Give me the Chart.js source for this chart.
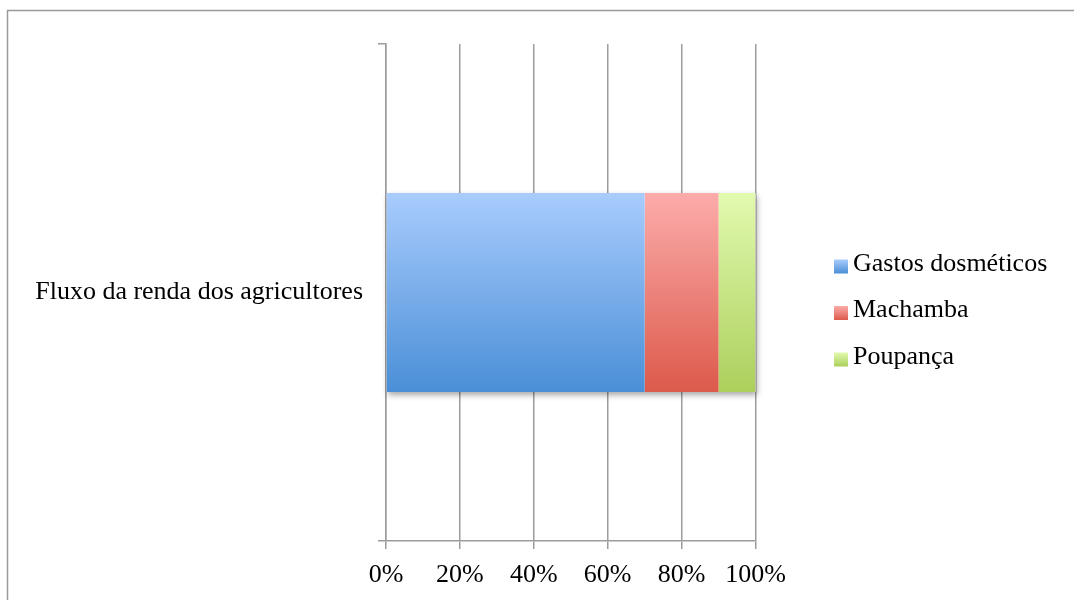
<!DOCTYPE html>
<html>
<head>
<meta charset="utf-8">
<script src="https://cdn.jsdelivr.net/npm/chart.js@4.4.1/dist/chart.umd.min.js"></script>
<style>
  html, body { margin: 0; padding: 0; background: #fff; }
  #wrap { width: 1074px; height: 600px; position: relative; }
</style>
</head>
<body>
<div id="wrap"><canvas id="chart"></canvas></div>
<script>
const categories = ['Fluxo da renda dos agricultores'];
const seriesNames = ['Gastos dosméticos', 'Machamba', 'Poupança'];
const gastosDomesticos = [70];
const machamba = [20];
const poupanca = [10];
const xTicks = [0, 20, 40, 60, 80, 100];

// top/bottom colours of each series gradient
const fills = [
    ['#a9ccfd', '#4a8fd7'],
    ['#fcacab', '#dc5a4b'],
    ['#e2faaf', '#accf5c']
];
const gridColor = '#9c9c9c';
const font = { family: '"Liberation Serif", "Times New Roman", serif', size: 26 };
const BAR_PCT = 0.4;

function barGradient(ctx, i) {
    const chart = ctx.chart;
    const yScale = chart.scales.y;
    if (!chart.chartArea || !yScale) return fills[i][1];
    const band = (yScale.bottom - yScale.top) / categories.length * BAR_PCT;
    const mid = yScale.getPixelForValue(ctx.dataIndex || 0);
    const g = chart.ctx.createLinearGradient(0, mid - band / 2, 0, mid + band / 2);
    g.addColorStop(0, fills[i][0]);
    g.addColorStop(1, fills[i][1]);
    return g;
}

// frame round the whole chart
const framePlugin = {
    id: 'frame',
    beforeDraw(chart) {
        const c = chart.ctx;
        c.save();
        c.strokeStyle = '#9a9a9a';
        c.lineWidth = 1.5;
        c.strokeRect(7.5, 10.5, chart.width + 20, chart.height + 20);
        c.restore();
    }
};

// soft shadow under the stacked bar
const shadowPlugin = {
    id: 'barShadow',
    beforeDatasetsDraw(chart) {
        const c = chart.ctx;
        const bars = [];
        chart.data.datasets.forEach((ds, i) => {
            chart.getDatasetMeta(i).data.forEach(b => bars.push(b));
        });
        if (!bars.length) return;
        const left = Math.min(...bars.map(b => Math.min(b.x, b.base)));
        const right = Math.max(...bars.map(b => Math.max(b.x, b.base)));
        const top = Math.min(...bars.map(b => b.y - b.height / 2));
        const bottom = Math.max(...bars.map(b => b.y + b.height / 2));
        c.save();
        c.shadowColor = 'rgba(0,0,0,0.35)';
        c.shadowBlur = 6;
        c.shadowOffsetX = 1;
        c.shadowOffsetY = 3;
        c.fillStyle = '#fff';
        c.fillRect(left, top, right - left, bottom - top);
        c.restore();
    }
};

// legend column to the right of the plot
const sideLegend = {
    id: 'sideLegend',
    afterDraw(chart) {
        const c = chart.ctx;
        const area = chart.chartArea;
        const x0 = area.right + 78.5;
        const mid = (area.top + area.bottom) / 2;
        const step = 46.5;
        const n = chart.data.datasets.length;
        c.save();
        c.font = `${font.size}px ${font.family}`;
        c.textBaseline = 'alphabetic';
        chart.data.datasets.forEach((ds, i) => {
            const base = mid + 24.5 + (i - (n - 1) / 2) * step;
            const g = c.createLinearGradient(0, base - 11, 0, base + 3);
            g.addColorStop(0, fills[i][0]);
            g.addColorStop(1, fills[i][1]);
            c.fillStyle = g;
            c.fillRect(x0, base - 11, 14, 14);
            c.fillStyle = '#000';
            c.fillText(ds.label, x0 + 19, base);
        });
        c.restore();
    }
};

const seriesValues = [gastosDomesticos, machamba, poupanca];

new Chart(document.getElementById('chart'), {
    type: 'bar',
    data: {
        labels: categories,
        datasets: seriesValues.map((vals, i) => ({
            label: seriesNames[i],
            data: vals,
            backgroundColor: ctx => barGradient(ctx, i),
            borderWidth: 0,
            barPercentage: BAR_PCT,
            categoryPercentage: 1
        }))
    },
    options: {
        indexAxis: 'y',
        responsive: true,
        maintainAspectRatio: false,
        animation: false,
        layout: { padding: { top: 44, right: 318.5, bottom: 0, left: 0 } },
        plugins: {
            legend: { display: false },
            tooltip: { enabled: false }
        },
        scales: {
            x: {
                stacked: true,
                min: 0,
                max: 100,
                afterBuildTicks: scale => {
                    scale.ticks = xTicks.map(v => ({ value: v }));
                },
                afterFit: scale => { scale.height = 59; },
                ticks: {
                    color: '#000',
                    font: font,
                    padding: 11,
                    maxRotation: 0,
                    callback: v => v + '%'
                },
                grid: { color: gridColor, lineWidth: 1.5, tickLength: 8, drawTicks: true },
                border: { display: true, color: gridColor, width: 1.5 }
            },
            y: {
                stacked: true,
                afterFit: scale => { scale.width = 386; },
                ticks: { color: '#000', font: font, padding: 15 },
                grid: {
                    offset: true,
                    drawOnChartArea: false,
                    drawTicks: true,
                    tickLength: 8,
                    color: gridColor,
                    lineWidth: 1.5
                },
                border: { display: true, color: gridColor, width: 1.5 }
            }
        }
    },
    plugins: [framePlugin, shadowPlugin, sideLegend]
});
</script>
</body>
</html>
